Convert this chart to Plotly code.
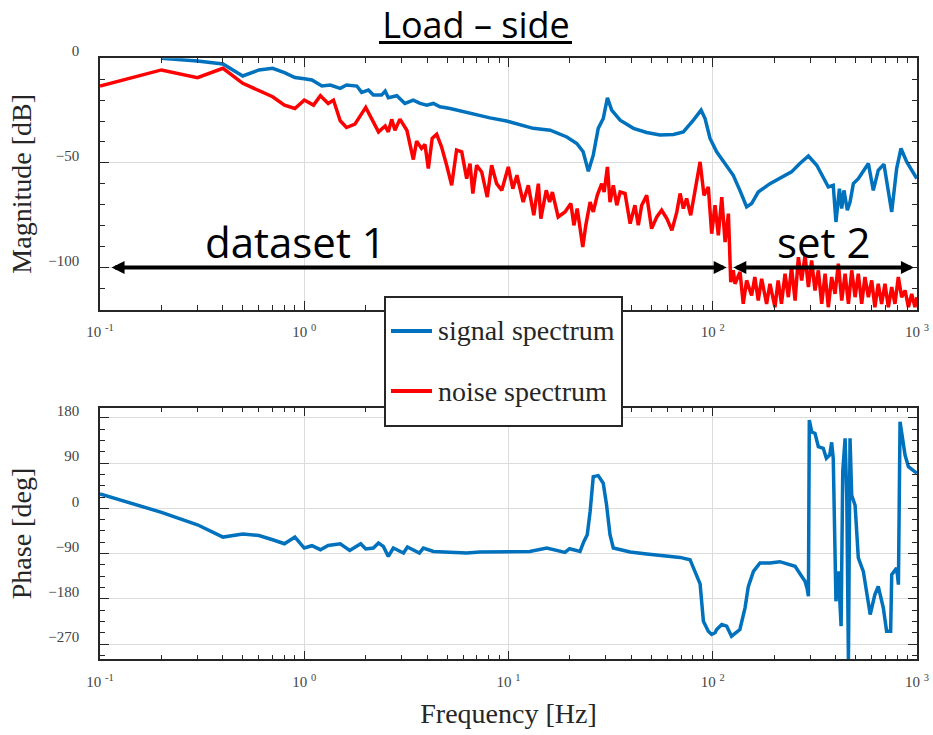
import math
import plotly.graph_objects as go

# ---------------------------------------------------------------- data
# Magnitude of the measured signal spectrum (load side)
freq_signal = [0.2, 0.3, 0.4, 0.5, 0.6, 0.7, 0.8, 0.9, 1.0, 1.09, 1.22, 1.34, 1.5, 1.61,
               1.81, 1.91, 2.06, 2.18, 2.39, 2.49, 2.58, 2.84, 3.11, 3.42, 3.69, 3.98,
               4.29, 4.62, 5.18, 6.01, 6.98, 8.11, 9.79, 11.0, 13.2, 16.0, 19.3, 21.6,
               23.2, 24.6, 26.0, 27.5, 29.1, 30.5, 32.0, 35.2, 40.9, 47.5, 55.2, 64.2,
               71.8, 80.4, 87.7, 91.7, 97.0, 104.5, 112.7, 126, 135.8, 146.5, 155, 167,
               190.6, 217, 243, 267, 294, 323, 368, 389, 401, 417, 428, 439, 456, 470,
               488, 516, 556, 578, 611, 646, 689, 724, 752, 795, 835, 891, 998]
mag_signal = [0, -1.3, -2.8, -8.5, -5.6, -4.8, -6.9, -9.2, -9.8, -10.4, -13.3, -12.8, -14.4,
              -12.8, -13.3, -16.3, -15.2, -17.6, -17.6, -15.7, -18.9, -17.9, -21.6, -20,
              -21.6, -22.4, -21.6, -23.2, -24, -25.6, -26.8, -28.5, -30, -31.2, -33.5,
              -34.4, -37.6, -40.7, -44.7, -54, -46.3, -33.5, -28.8, -18.9, -24.8, -29.6,
              -33.5, -35.5, -36.7, -36.4, -35.2, -29.6, -24.8, -28.8, -38.3, -44.7, -49.2,
              -55.9, -63.1, -71, -69.4, -63.9, -59.9, -56.7, -54.3, -50.3, -46.7, -51.1,
              -61.5, -60.7, -78.2, -62.3, -71.8, -63.1, -72.6, -68.7, -59.9, -57.5, -52.7,
              -50.3, -63.1, -53.5, -50.6, -62.3, -73.4, -52.7, -43.1, -49.5, -57.5]

# Magnitude of the noise spectrum
freq_noise = [0.1, 0.2, 0.3, 0.4, 0.5, 0.6, 0.7, 0.8, 0.9, 1.0, 1.11, 1.2, 1.31, 1.39, 1.5,
              1.61, 1.77, 2.0, 2.14, 2.31, 2.49, 2.58, 2.68, 2.78, 2.94, 3.18, 3.42, 3.55,
              3.75, 3.9, 4.05, 4.23, 4.45, 4.7, 4.98, 5.27, 5.57, 5.9, 6.24, 6.48, 6.69,
              6.98, 7.39, 7.87, 8.27, 8.75, 9.27, 9.98, 10.5, 11.0, 11.8, 12.5, 13.3, 14.0,
              14.4, 15.3, 15.9, 16.4, 17.5, 18.9, 20.2, 20.9, 21.7, 23.1, 23.9, 25.1, 26.0,
              27.2, 28.6, 29.4, 30.5, 31.4, 32.6, 33.9, 35.2, 37.2, 39.4, 41.6, 43.2, 44.9,
              47.5, 50.2, 53.2, 56.2, 59.6, 63.1, 66.7, 69.2, 71.8, 74.5, 78.0, 81.8, 86.7,
              90.6, 95.1, 98.8, 102.6, 106.5, 110.7, 114.9, 119.3, 122.5, 126, 128.5, 136,
              141, 146.5, 155, 160.7, 167, 173.5, 183.5, 190.6, 201.6, 209, 217, 225.9,
              234.5, 243, 253, 262.6, 272.4, 283, 294, 304.8, 316.7, 328.8, 341.5, 354.8,
              368, 382, 397, 412, 428, 444.6, 461.6, 479, 497.6, 516, 536, 556, 578, 600,
              622, 646, 671, 697, 724, 752, 780, 810, 841, 874, 908, 942, 977, 1000]
mag_noise = [-13.3, -5.6, -9.3, -4.8, -12, -15.5, -18.4, -22.4, -24, -20, -22.4, -17.9, -21.6,
             -20, -29.9, -33.1, -31.5, -23.5, -28.8, -35.2, -32.4, -35.2, -29.2, -34.4, -29.1,
             -34.4, -48.4, -39.6, -43.1, -41.2, -52.7, -38.3, -36.3, -42.3, -51.1, -60.7,
             -43.9, -44.7, -57.5, -50.3, -64.6, -51.1, -54.3, -66.3, -51.1, -59.9, -63.1,
             -51.9, -62.3, -55.9, -68.7, -60.7, -75, -59.9, -76.6, -63.1, -68.7, -63.9,
             -75.8, -73.4, -69.4, -79.8, -71.8, -90.2, -79.8, -68.7, -73.4, -65.5, -59.9,
             -63.9, -51.9, -68.7, -60.7, -70.2, -63.9, -64.6, -79, -70.2, -79.8, -70.2,
             -65.5, -81.4, -75.8, -72.6, -76.6, -82.2, -73.4, -64.6, -71.8, -67, -75, -63.1,
             -49.5, -65.5, -61.5, -83.8, -70.2, -84.6, -66.3, -87.8, -74.2, -106.9, -101.3,
             -107.7, -102.1, -117.3, -106.1, -113.3, -104.5, -115.7, -105.3, -117.3, -107.7,
             -118.9, -106.1, -117.3, -102.9, -114.1, -99.8, -115.7, -95, -106.1, -94.2,
             -109.3, -96.6, -110.9, -101.3, -117.3, -102.9, -118.9, -104.5, -112.5, -98.1,
             -115.7, -102.9, -117.3, -101.3, -114.1, -102.9, -117.3, -104.5, -114.1, -106.1,
             -118.9, -107.7, -117.3, -107.7, -118.9, -109.3, -117.3, -104.5, -114.1, -110.9,
             -118.9, -112.5, -118.9, -114.1]

# Phase of the signal spectrum
freq_phase = [0.1, 0.2, 0.3, 0.4, 0.5, 0.6, 0.7, 0.8, 0.9, 1.0, 1.09, 1.2, 1.31, 1.5, 1.67,
              1.89, 2.0, 2.18, 2.31, 2.44, 2.58, 2.73, 3.06, 3.2, 3.66, 3.83, 4.29, 5.18,
              6.24, 7.24, 10, 12.7, 15.4, 18.9, 19.9, 22.4, 23.4, 24.3, 25.1, 26.0, 27.5,
              29.1, 30.2, 31.4, 32.6, 39.4, 47.5, 57.3, 69.2, 77.4, 81.8, 86.7, 90, 95.1,
              98.8, 102.6, 104.5, 110.7, 117, 123.6, 135.8, 143.9, 149.4, 158.2, 170.3,
              190.6, 213, 230, 253, 272.4, 283, 290, 294, 297, 305, 316.7, 328.8, 347.5, 360,
              374, 382, 389, 401, 412, 425, 433, 444.6, 453, 461.6, 470, 479, 497.6, 516,
              546, 590, 622, 646, 684, 710, 743, 752, 795, 811, 826, 874, 908, 998]
phase_signal = [28.8, -8, -32.7, -57.1, -51.1, -53.9, -62.4, -70.3, -57.1, -78.9, -74.3,
                -82.2, -73.7, -70.3, -83.6, -70.3, -80.8, -78.9, -69, -75.7, -95.5, -78.9,
                -88.8, -76.9, -88.8, -78.9, -85.6, -86.8, -88.8, -86.8, -85.6, -85.6, -78.9,
                -87.6, -80.2, -85.6, -65.8, -52.5, -6.3, 63.1, 65.1, 50, 7, -52.5, -78.9,
                -86.8, -90.8, -93.5, -97.5, -102, -125.2, -150, -224.3, -244.1, -250.7,
                -247.3, -240.8, -230.9, -234.2, -254, -240.8, -197.8, -155, -125.2, -108.6,
                -108.6, -106, -110, -115, -135, -145, -160, -174.8, 175.4, 152.3, 149,
                122.5, 119.3, 99.5, 106, 131.2, 99.5, -184.7, -125.2, -234.2, 73, 139.2, 26,
                -305, 139.2, 26, 6.2, -98.6, -125.2, -211, -171.4, -155, -197.8, -244.1,
                -244.1, -131.8, -118.5, -151.6, 172.1, 106, 82.9, 69.8]

# Frequency ranges of the two identification data sets, at the arrow level
dataset1_hz = (0.112, 117)
dataset2_hz = (124, 966)
arrow_level_db = -100

decade_vals = [0.1, 1, 10, 100, 1000]
decade_text = ["10 <sup>-1</sup>", "10 <sup>0</sup>", "10 <sup>1</sup>",
               "10 <sup>2</sup>", "10 <sup>3</sup>"]
# the legend box covers the 10^1 label of the upper panel
decade_text_top = ["10 <sup>-1</sup>", "10 <sup>0</sup>", "",
                   "10 <sup>2</sup>", "10 <sup>3</sup>"]

series_names = ["signal spectrum", "noise spectrum"]

# ---------------------------------------------------------------- styling
BLUE = "#0072BD"
RED = "#FF0000"
INK = "#262626"
SERIF = "Liberation Serif"
SANS = "Open Sans"
W, H = 933, 735

x_dom = [100 / W, 917 / W]
top_dom = [1 - 309.5 / H, 1 - 58.2 / H]
bot_dom = [1 - 659.3 / H, 1 - 407.7 / H]

minor_x = [k * 10 ** e for e in range(-1, 3) for k in range(2, 10)]

tick_font = dict(family=SERIF, size=15, color="#444444")
title_font = dict(family=SERIF, size=28, color=INK)


def x_axis(**kw):
    ax = dict(type="log", range=[-1, 3], domain=x_dom, automargin=False, showline=True,
              linecolor=INK, linewidth=1.5, mirror="allticks", ticks="inside", ticklen=9,
              tickwidth=1.2, tickcolor=INK, showgrid=True, gridcolor="#dcdcdc",
              gridwidth=1.2, tickmode="array", tickvals=decade_vals, ticktext=decade_text,
              tickfont=tick_font, ticklabelstandoff=8, zeroline=False,
              minor=dict(tickmode="array", tickvals=minor_x, ticks="inside", ticklen=5,
                         tickwidth=1.2, tickcolor=INK, showgrid=False))
    ax.update(kw)
    return ax


def y_axis(rng, dom, dtick, minor_dtick, title, **kw):
    ax = dict(range=rng, domain=dom, automargin=False, showline=True, linecolor=INK,
              linewidth=1.5, mirror="allticks", ticks="inside", ticklen=9, tickwidth=1.2,
              tickcolor=INK, showgrid=True, gridcolor="#dcdcdc", gridwidth=1.2,
              zeroline=False, tickmode="linear", tick0=0, dtick=dtick, tickfont=tick_font,
              ticklabelstandoff=16, ticklabelshift=-7,
              title=dict(text=title, font=title_font, standoff=8),
              minor=dict(tickmode="linear", tick0=0, dtick=minor_dtick, ticks="inside",
                         ticklen=5, tickwidth=1.2, tickcolor=INK, showgrid=False))
    ax.update(kw)
    return ax


fig = go.Figure()
fig.add_trace(go.Scatter(x=freq_signal, y=mag_signal, mode="lines", name=series_names[0],
                         line=dict(color=BLUE, width=3.5), xaxis="x", yaxis="y"))
fig.add_trace(go.Scatter(x=freq_noise, y=mag_noise, mode="lines", name=series_names[1],
                         line=dict(color=RED, width=3.5), xaxis="x", yaxis="y"))
fig.add_trace(go.Scatter(x=freq_phase, y=phase_signal, mode="lines", name="signal phase",
                         line=dict(color=BLUE, width=3.5), xaxis="x2", yaxis="y2"))

annotations = [
    # data-set extent arrows (double headed)
    dict(xref="x", yref="y", axref="x", ayref="y",
         x=math.log10(dataset1_hz[1]), y=arrow_level_db,
         ax=math.log10(dataset1_hz[0]), ay=arrow_level_db,
         text="", showarrow=True, arrowside="end+start", arrowhead=2, arrowsize=0.65,
         arrowwidth=4, arrowcolor="black", standoff=0, startstandoff=0),
    dict(xref="x", yref="y", axref="x", ayref="y",
         x=math.log10(dataset2_hz[1]), y=arrow_level_db,
         ax=math.log10(dataset2_hz[0]), ay=arrow_level_db,
         text="", showarrow=True, arrowside="end+start", arrowhead=2, arrowsize=0.65,
         arrowwidth=4, arrowcolor="black", standoff=0, startstandoff=0),
    dict(xref="x", yref="y", x=math.log10(0.91), y=-87.5, text="dataset 1",
         showarrow=False, font=dict(family=SANS, size=42, color="black")),
    dict(xref="x", yref="y", x=math.log10(352), y=-87.5, text="set 2",
         showarrow=False, font=dict(family=SANS, size=42, color="black")),
]

# Boxed legend placed between the two panels
LEG_X0, LEG_X1, LEG_Y0, LEG_Y1 = 385 / W, 622 / W, 1 - 426 / H, 1 - 297 / H
legend_rows = [1 - 331 / H, 1 - 391 / H]
legend_colors = [BLUE, RED]
shapes = [
    dict(type="rect", xref="paper", yref="paper", x0=LEG_X0, x1=LEG_X1, y0=LEG_Y0, y1=LEG_Y1,
         fillcolor="white", line=dict(color=INK, width=2), layer="above"),
    # underline of the title
    dict(type="line", xref="paper", yref="paper", x0=379 / W, x1=572 / W,
         y0=1 - 42.5 / H, y1=1 - 42.5 / H, line=dict(color="black", width=3), layer="above"),
]
for row_y, col, name in zip(legend_rows, legend_colors, series_names):
    shapes.append(dict(type="line", xref="paper", yref="paper", x0=391 / W, x1=432 / W,
                       y0=row_y, y1=row_y, line=dict(color=col, width=4), layer="above"))
    annotations.append(dict(xref="paper", yref="paper", x=436 / W, y=row_y, xanchor="left",
                            yanchor="middle", text=name, showarrow=False,
                            font=dict(family=SERIF, size=28, color=INK)))

fig.update_layout(
    width=W, height=H,
    margin=dict(l=0, r=0, t=0, b=0),
    paper_bgcolor="white", plot_bgcolor="white",
    title=dict(text="Load – side", x=476 / W, xanchor="center",
               y=1 - 25 / H, yanchor="middle",
               font=dict(family=SANS, size=36, color="black")),
    xaxis=x_axis(anchor="y", ticktext=decade_text_top),
    yaxis=y_axis([-120, 0], top_dom, 50, 10, "Magnitude [dB]", anchor="x"),
    xaxis2=x_axis(anchor="y2",
                  title=dict(text="Frequency [Hz]", font=title_font, standoff=14)),
    yaxis2=y_axis([-300, 200], bot_dom, 90, 22.5, "Phase [deg]", anchor="x2"),
    annotations=annotations,
    shapes=shapes,
    showlegend=False,
)

fig.write_html("out.html")
